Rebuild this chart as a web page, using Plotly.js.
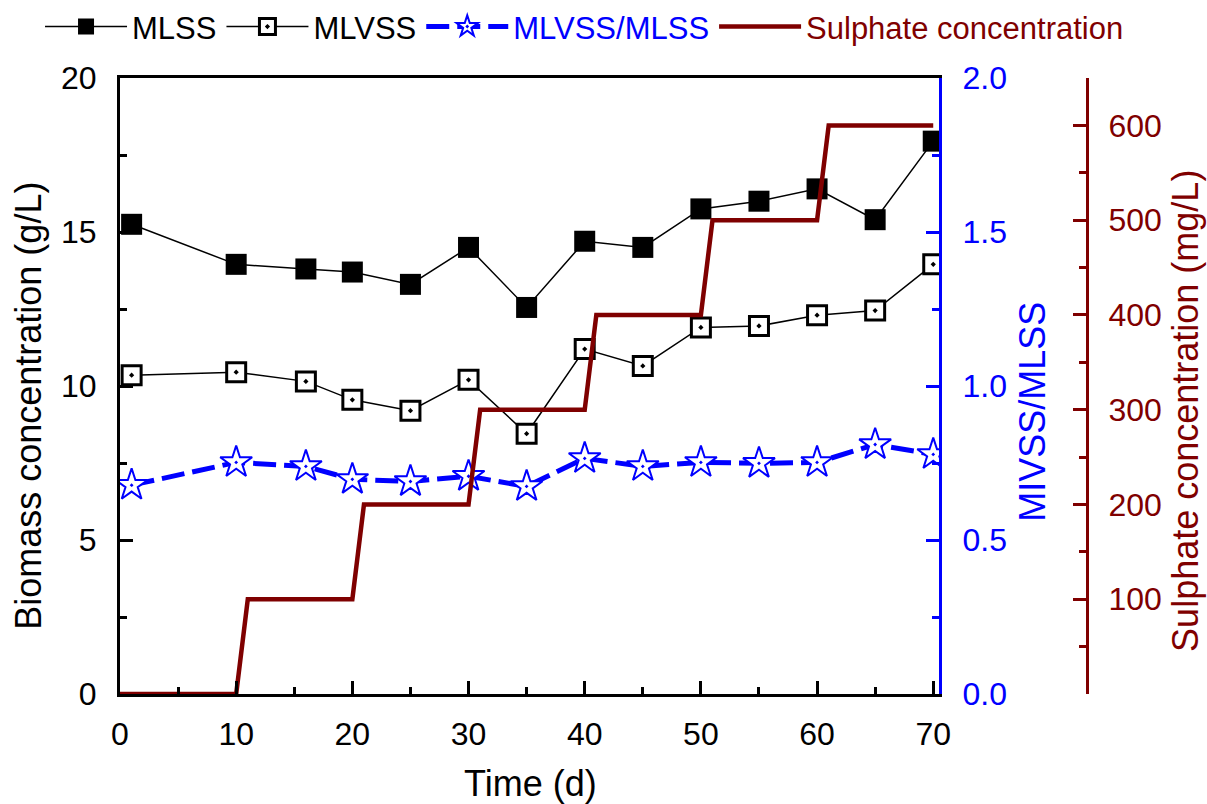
<!DOCTYPE html>
<html>
<head>
<meta charset="utf-8">
<script src="https://cdn.plot.ly/plotly-3.0.1.min.js"></script>
<style>html,body{margin:0;padding:0;background:#fff;}#chart{width:1207px;height:804px;}</style>
</head>
<body>
<div id="chart"></div>
<script>
// ---- data ----
const days = [1, 10, 16, 20, 25, 30, 35, 40, 45, 50, 55, 60, 65, 70];
const mlss = [15.25, 13.95, 13.8, 13.7, 13.3, 14.5, 12.55, 14.7, 14.5, 15.75, 16.0, 16.4, 15.4, 17.95];
const mlvss = [10.35, 10.45, 10.15, 9.55, 9.2, 10.2, 8.45, 11.2, 10.65, 11.9, 11.95, 12.3, 12.45, 13.95];
const ratio = [0.678, 0.752, 0.739, 0.697, 0.690, 0.707, 0.674, 0.765, 0.739, 0.752, 0.749, 0.752, 0.81, 0.778];
const sulphateDays = [0, 10, 11, 20, 21, 30, 31, 40, 41, 50, 51, 60, 61, 70];
const sulphate = [0, 0, 100, 100, 200, 200, 300, 300, 400, 400, 500, 500, 600, 600];
const leftTicks = [0, 5, 10, 15, 20];
const ratioTicks = [0, 0.5, 1.0, 1.5, 2.0];
const sulphateTicks = [100, 200, 300, 400, 500, 600];
const sulphateMinor = [50, 150, 250, 350, 450, 550, 650];

const FONT = '"Liberation Sans", Arial, Helvetica, sans-serif';
const BLUE = '#0000ff';
const RED = '#7f0000';

const traces = [
  {
    x: days, y: mlss, name: 'MLSS', type: 'scatter', mode: 'lines+markers',
    line: {color: '#000', width: 1.5},
    marker: {symbol: 'square', size: 21, color: '#000'},
    yaxis: 'y'
  },
  {
    x: days, y: mlvss, name: 'MLVSS', type: 'scatter', mode: 'lines+markers',
    line: {color: '#000', width: 1.5},
    marker: {symbol: 'square-dot', size: 19, color: '#fff', line: {color: '#000', width: 3}},
    yaxis: 'y'
  },
  {
    x: days, y: ratio, name: '<span style="color:' + BLUE + '">MLVSS/MLSS</span>', type: 'scatter', mode: 'lines+markers',
    line: {color: BLUE, width: 5, dash: '23px,8px'},
    marker: {symbol: 'star-dot', size: 24, color: '#fff', line: {color: BLUE, width: 2}},
    yaxis: 'y2'
  },
  {
    x: sulphateDays, y: sulphate, name: '<span style="color:' + RED + '">Sulphate concentration</span>', type: 'scatter', mode: 'lines',
    line: {color: RED, width: 4.5},
    yaxis: 'y3'
  }
];

const layout = {
  width: 1207, height: 804,
  margin: {l: 120, r: 120, t: 78, b: 110, autoexpand: false},
  paper_bgcolor: '#fff', plot_bgcolor: 'rgba(0,0,0,0)',
  font: {family: FONT, color: '#000', size: 32},
  showlegend: true,
  legend: {
    orientation: 'h', x: -0.0827, xanchor: 'left', y: 1.083, yanchor: 'middle',
    font: {family: FONT, size: 31, color: '#000'}, bgcolor: 'rgba(0,0,0,0)',
    itemwidth: 82, tracegroupgap: 0
  },
  xaxis: {
    domain: [0, 0.847], range: [0, 70.5],
    showgrid: false, zeroline: false,
    showline: true, linecolor: '#000', linewidth: 3, mirror: true,
    ticks: 'inside', ticklen: 13, tickwidth: 3, tickcolor: '#000',
    tickmode: 'linear', tick0: 0, dtick: 10,
    minor: {ticks: 'inside', ticklen: 7, tickwidth: 3, tickcolor: '#000', dtick: 5, showgrid: false},
    tickfont: {size: 32, color: '#000'}, ticklabelstandoff: 10
  },
  yaxis: {
    range: [0, 20], showgrid: false, zeroline: false,
    showline: true, linecolor: '#000', linewidth: 3,
    ticks: 'inside', ticklen: 13, tickwidth: 3, tickcolor: '#000',
    tickvals: leftTicks,
    minor: {ticks: 'inside', ticklen: 7, tickwidth: 3, tickcolor: '#000', dtick: 2.5, showgrid: false},
    tickfont: {size: 32, color: '#000'}, ticklabelstandoff: 14
  },
  yaxis2: {
    overlaying: 'y', side: 'right', anchor: 'x',
    range: [0, 2], showgrid: false, zeroline: false,
    showline: true, linecolor: BLUE, linewidth: 3,
    ticks: 'inside', ticklen: 13, tickwidth: 3, tickcolor: BLUE,
    tickvals: ratioTicks, tickformat: '.1f',
    minor: {ticks: 'inside', ticklen: 7, tickwidth: 3, tickcolor: BLUE, dtick: 0.25, showgrid: false},
    tickfont: {size: 32, color: BLUE}, ticklabelstandoff: 14
  },
  yaxis3: {
    overlaying: 'y', side: 'right', anchor: 'free', position: 1,
    range: [0, 650], showgrid: false, zeroline: false,
    showline: true, linecolor: RED, linewidth: 3,
    ticks: 'inside', ticklen: 13, tickwidth: 3, tickcolor: RED,
    tickvals: sulphateTicks,
    minor: {ticks: 'inside', ticklen: 7, tickwidth: 3, tickcolor: RED, tickvals: sulphateMinor, showgrid: false},
    tickfont: {size: 32, color: RED}, ticklabelstandoff: 13
  },
  annotations: [
    {text: 'Time (d)', xref: 'paper', yref: 'paper', x: 0.424, y: -0.1445, xanchor: 'center', yanchor: 'middle',
     showarrow: false, font: {family: FONT, size: 36, color: '#000'}},
    {text: 'Biomass concentration (g/L)', xref: 'paper', yref: 'paper', x: -0.094, y: 0.468, xanchor: 'center', yanchor: 'middle',
     textangle: -90, showarrow: false, font: {family: FONT, size: 36, color: '#000'}},
    {text: 'MIVSS/MLSS', xref: 'paper', yref: 'paper', x: 0.944, y: 0.458, xanchor: 'center', yanchor: 'middle',
     textangle: -90, showarrow: false, font: {family: FONT, size: 36, color: BLUE}},
    {text: 'Sulphate concentration (mg/L)', xref: 'paper', yref: 'paper', x: 1.102, y: 0.459, xanchor: 'center', yanchor: 'middle',
     textangle: -90, showarrow: false, font: {family: FONT, size: 36, color: RED}}
  ]
};

Plotly.newPlot('chart', traces, layout, {displayModeBar: false, staticPlot: true});
</script>
</body>
</html>
